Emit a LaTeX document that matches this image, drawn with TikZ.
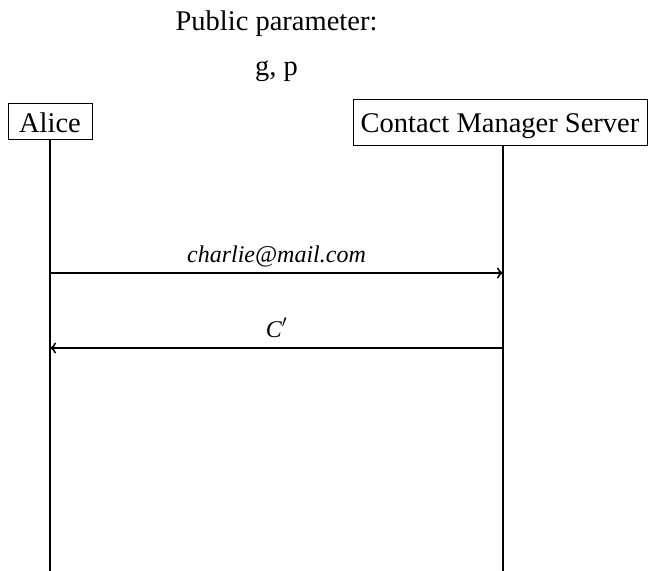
\documentclass[tikz,border=0pt]{standalone}
\usepackage{fontspec}
\setmainfont{Liberation Serif}
\usetikzlibrary{arrows.meta}
\begin{document}
\begin{tikzpicture}[x=1pt,y=-1pt,
  every node/.style={font=\fontsize{28.5}{34}\selectfont},
  actor/.style={draw, line width=1pt, inner sep=0pt, anchor=base},
  lifeline/.style={line width=1.6pt},
  msg/.style={line width=1.6pt, -{To[length=6pt,width=11pt]}},
  lbl/.style={anchor=base, font=\fontsize{24}{28}\selectfont\itshape}]
\useasboundingbox (0,0) rectangle (649,571);

% shared parameters
\node[anchor=base] (pub) at (276.5,30) {Public parameter:};
\node[anchor=base] (gp) at (276.5,75) {g, p};

% participants
\node[actor, minimum width=84pt, text height=29.5pt, text depth=6.5pt]
  (alice) at (50,132.5) {Alice};
\node[actor, minimum width=294pt, text height=33.5pt, text depth=12.5pt]
  (cms) at (500,132.5) {Contact Manager Server};

% lifelines
\coordinate (aBot) at (50,571);
\coordinate (cTop) at (503,145);
\coordinate (cBot) at (503,571);
\draw[lifeline] (alice.south) -- (aBot);
\draw[lifeline] (cTop) -- (cBot);

% messages
\coordinate (a1) at (50,273);
\coordinate (c1) at (503,273);
\coordinate (a2) at (50,348);
\coordinate (c2) at (503,348);
\draw[msg] (a1) -- (c1);
\node[lbl] (m1) at (276.5,262) {charlie@mail.com};
\draw[msg] (c2) -- (a2);
\node[lbl] (m2) at (276.5,337) {C$'$};
\end{tikzpicture}
\end{document}
